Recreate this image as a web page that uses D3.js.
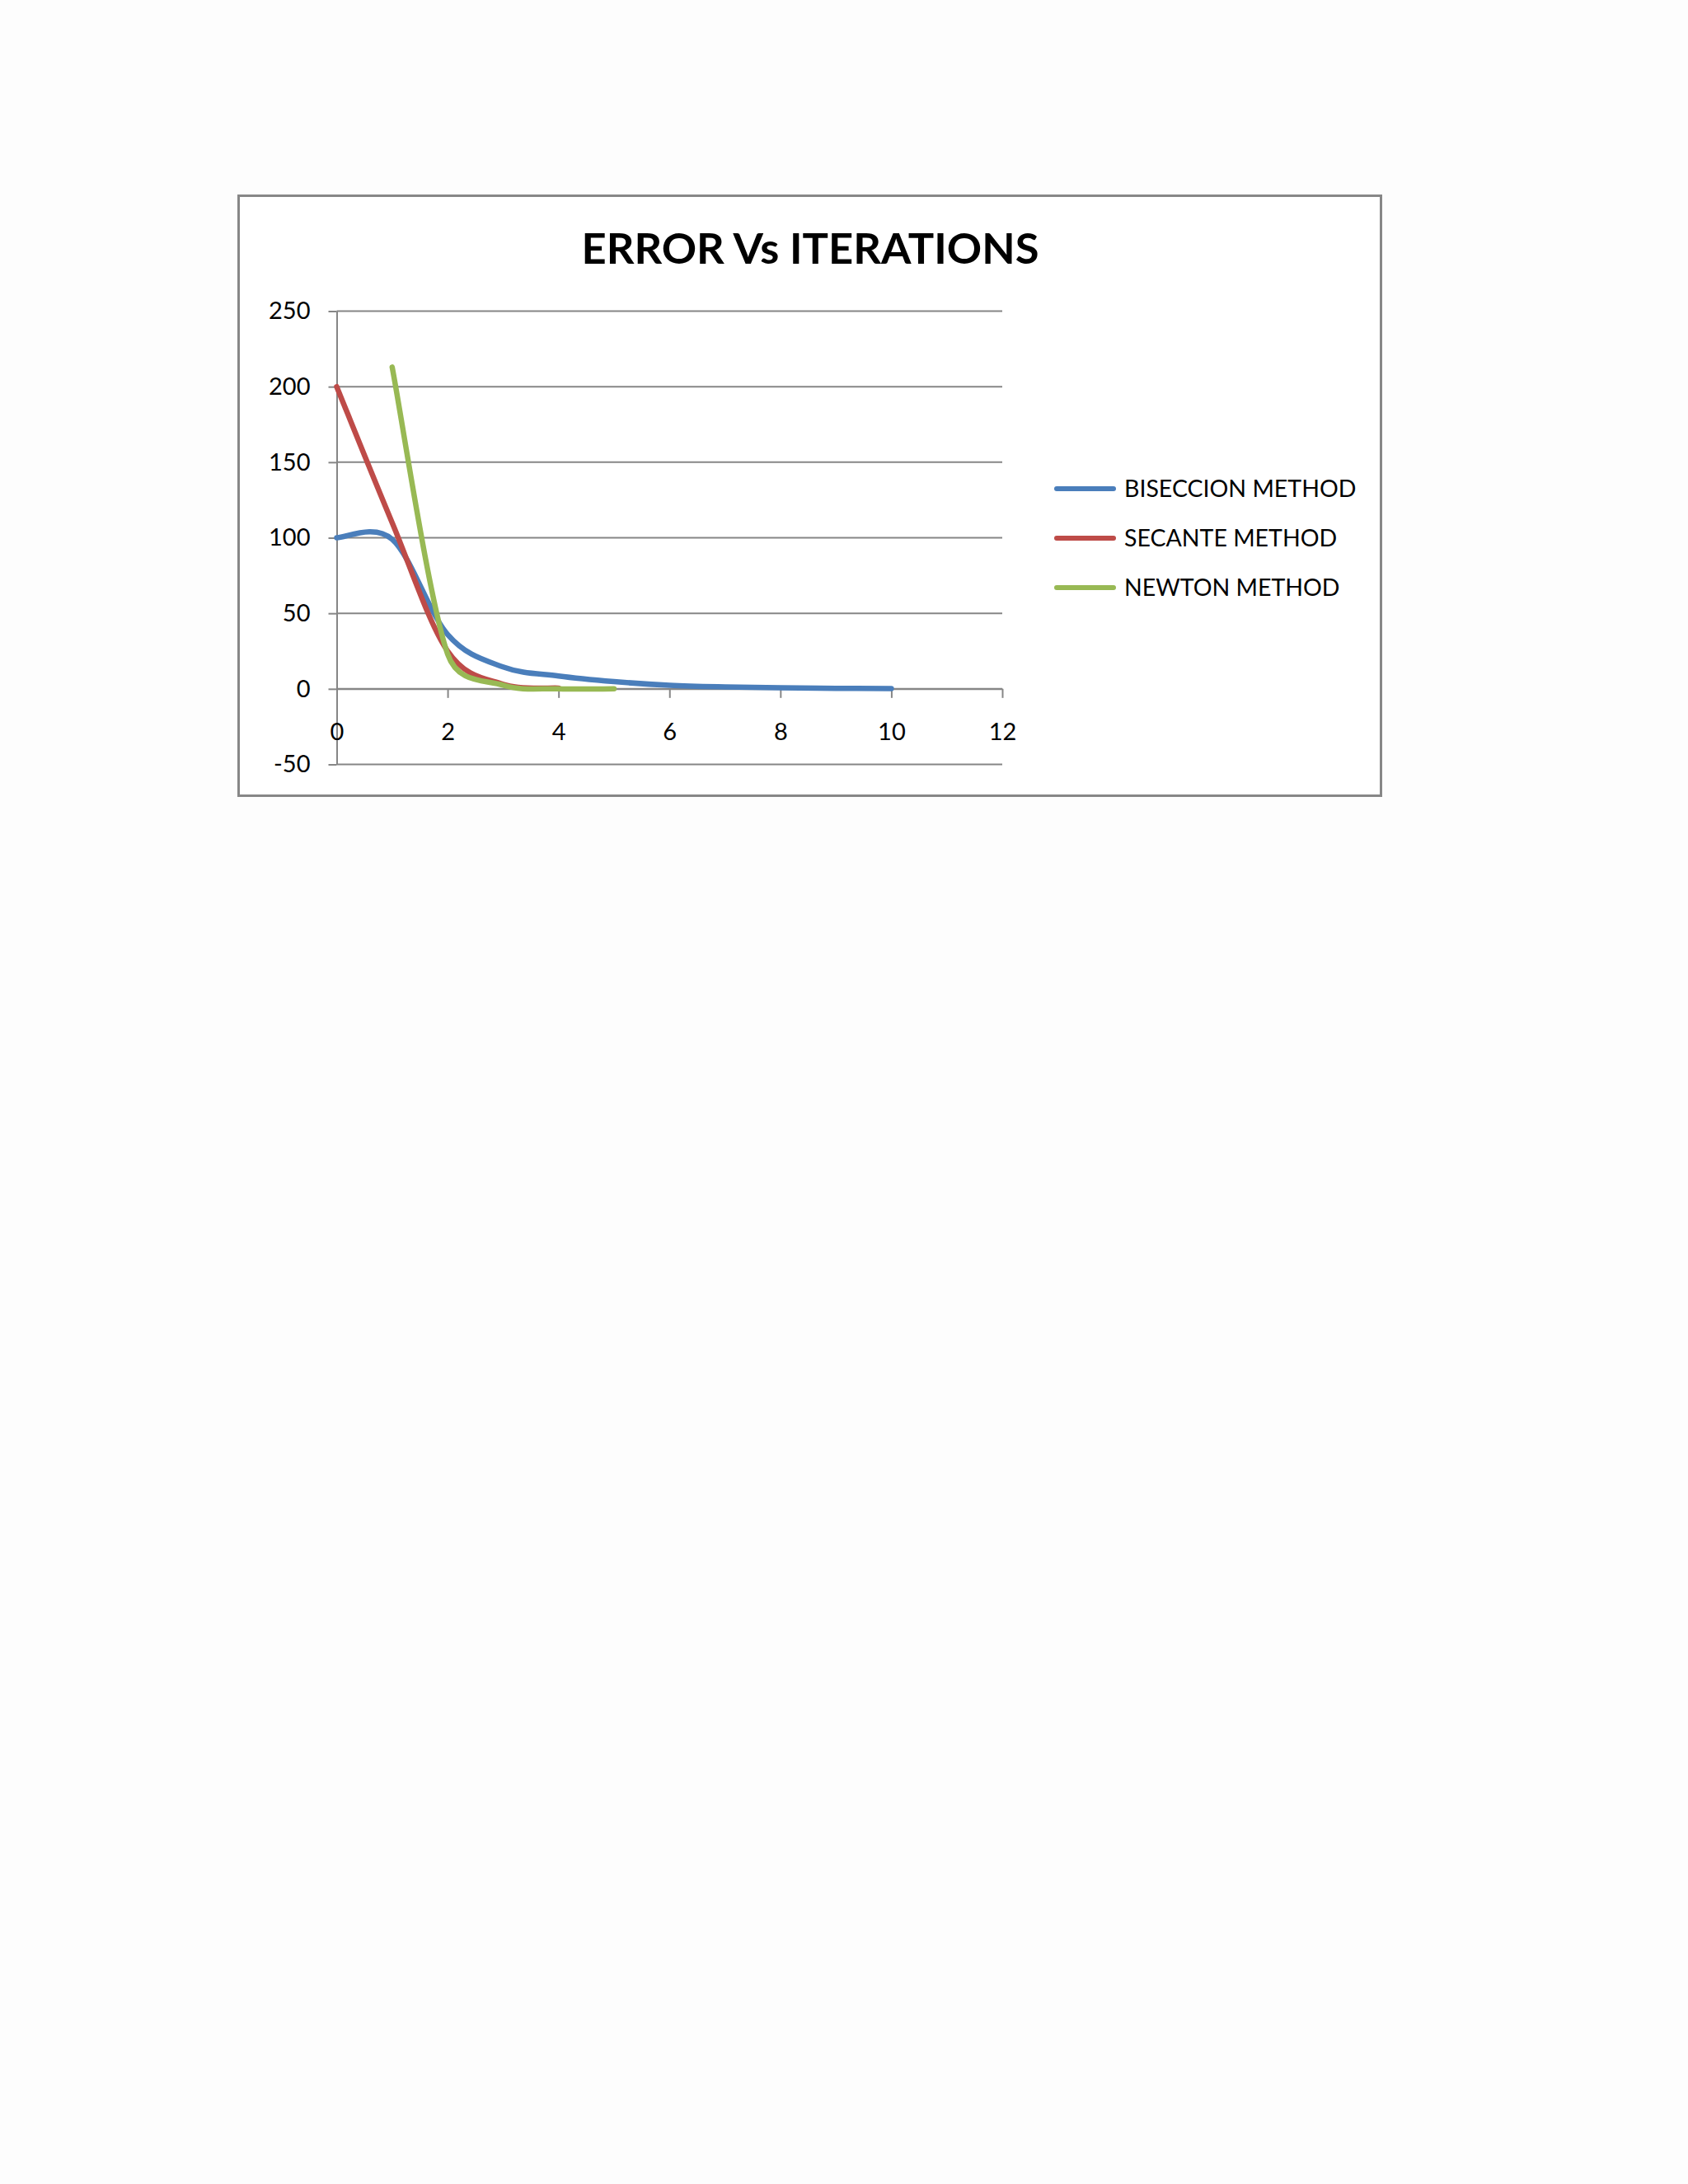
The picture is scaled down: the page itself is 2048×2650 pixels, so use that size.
<!DOCTYPE html>
<html>
<head>
<meta charset="utf-8">
<script src="https://cdn.jsdelivr.net/npm/d3@7"></script>
<style>
    body { margin: 0; background: #fdfdfd; }
    svg { display: block; font-family: Lato, "Open Sans", sans-serif; }
</style>
</head>
<body>
<div id="chart"></div>
<script>
// values
const iterations = [0, 1, 2, 3, 4, 5, 6, 7, 8, 9, 10];
const biseccion = [100, 99, 36, 14.5, 8.5, 4.8, 2.4, 1.3, 0.7, 0.35, 0.18];
const secanteIter = [0, 1, 2, 3, 4];
const secante = [200, 110, 25, 3, 0.5];
const newtonIter = [1, 2, 3, 4, 5];
const newton = [213, 23, 2.4, 0.02, 0];
const xTicks = [0, 2, 4, 6, 8, 10, 12];
const yTicks = [-50, 0, 50, 100, 150, 200, 250];
const seriesNames = ['BISECCION METHOD', 'SECANTE METHOD', 'NEWTON METHOD'];

const W = 2048, H = 2650;
const colors = ['#4a7ebb', '#be4b48', '#98b954'];
const grey = '#868686';

// spreadsheet style smoothing: catmull-rom bezier, control arms capped at half a segment
function curveSmooth(context) {
    return {
        areaStart() {},
        areaEnd() {},
        lineStart() { this.pts = []; },
        point(px, py) { this.pts.push([+px, +py]); },
        lineEnd() {
            const p = this.pts, n = p.length;
            if (!n) return;
            context.moveTo(p[0][0], p[0][1]);
            const dist = (a, b) => Math.hypot(b[0] - a[0], b[1] - a[1]);
            for (let i = 0; i < n - 1; i++) {
                const p0 = p[Math.max(i - 1, 0)], p1 = p[i], p2 = p[i + 1], p3 = p[Math.min(i + 2, n - 1)];
                const d12 = dist(p1, p2), d02 = dist(p0, p2), d13 = dist(p1, p3);
                const f0 = d02 / 6 < d12 / 2 ? 1 / 6 : d12 / d02 / 2;
                const f1 = d13 / 6 < d12 / 2 ? 1 / 6 : d12 / d13 / 2;
                context.bezierCurveTo(
                    p1[0] + (p2[0] - p0[0]) * f0, p1[1] + (p2[1] - p0[1]) * f0,
                    p2[0] - (p3[0] - p1[0]) * f1, p2[1] - (p3[1] - p1[1]) * f1,
                    p2[0], p2[1]);
            }
        }
    };
}

const svg = d3.select('#chart').append('svg')
    .attr('width', W)
    .attr('height', H);

// chart frame
svg.append('rect')
    .attr('x', 289.5)
    .attr('y', 237.5)
    .attr('width', 1386)
    .attr('height', 728)
    .attr('fill', '#ffffff')
    .attr('stroke', '#878787')
    .attr('stroke-width', 3);

svg.append('text')
    .attr('x', 983)
    .attr('y', 320)
    .attr('text-anchor', 'middle')
    .style('font-size', '52.5px')
    .style('font-weight', 'bold')
    .attr('fill', '#000')
    .text('ERROR Vs ITERATIONS');

const x = d3.scaleLinear().domain([0, 12]).range([408.5, 1216]);
const y = d3.scaleLinear().domain([-50, 250]).range([927.5, 377.5]);

// horizontal grid
svg.append('g')
    .selectAll('line')
    .data(yTicks)
    .enter()
    .append('line')
    .attr('x1', x(0))
    .attr('x2', x(12))
    .attr('y1', d => y(d))
    .attr('y2', d => y(d))
    .attr('stroke', grey)
    .attr('stroke-width', 2);

// y axis, plain hyphen for the minus
const yAxis = svg.append('g')
    .attr('transform', `translate(${x(0)}, 0)`)
    .call(d3.axisLeft(y).tickValues(yTicks).tickFormat(d => String(d))
        .tickSizeInner(10).tickSizeOuter(0).tickPadding(22));

// x axis on the zero line
const xAxis = svg.append('g')
    .attr('transform', `translate(0, ${y(0)})`)
    .call(d3.axisBottom(x).tickValues(xTicks).tickFormat(d => String(d))
        .tickSizeInner(11).tickSizeOuter(0).tickPadding(31));

[yAxis, xAxis].forEach(ax => {
    ax.selectAll('path, line')
        .attr('stroke', grey)
        .attr('stroke-width', 2);
    ax.selectAll('text')
        .attr('fill', '#000')
        .style('font-size', '29px')
        .style('font-family', 'Lato, "Open Sans", sans-serif');
});

const line = d3.line()
    .x(d => x(d[0]))
    .y(d => y(d[1]))
    .curve(curveSmooth);

const series = [
    d3.zip(iterations, biseccion),
    d3.zip(secanteIter, secante),
    d3.zip(newtonIter, newton)
];

series.forEach((pts, i) => {
    svg.append('path')
        .datum(pts)
        .attr('d', line)
        .attr('fill', 'none')
        .attr('stroke', colors[i])
        .attr('stroke-width', 6.5)
        .attr('stroke-linecap', 'round')
        .attr('stroke-linejoin', 'round');
});

// legend
const legend = svg.append('g')
    .attr('transform', 'translate(1282, 593)');

seriesNames.forEach((name, i) => {
    const yOffset = i * 60;

    legend.append('line')
        .attr('x1', 0)
        .attr('x2', 69)
        .attr('y1', yOffset)
        .attr('y2', yOffset)
        .attr('stroke', colors[i])
        .attr('stroke-width', 6)
        .attr('stroke-linecap', 'round');

    legend.append('text')
        .attr('x', 82)
        .attr('y', yOffset)
        .attr('dy', '0.36em')
        .style('font-size', '28.5px')
        .attr('fill', '#000')
        .text(name);
});
</script>
</body>
</html>
